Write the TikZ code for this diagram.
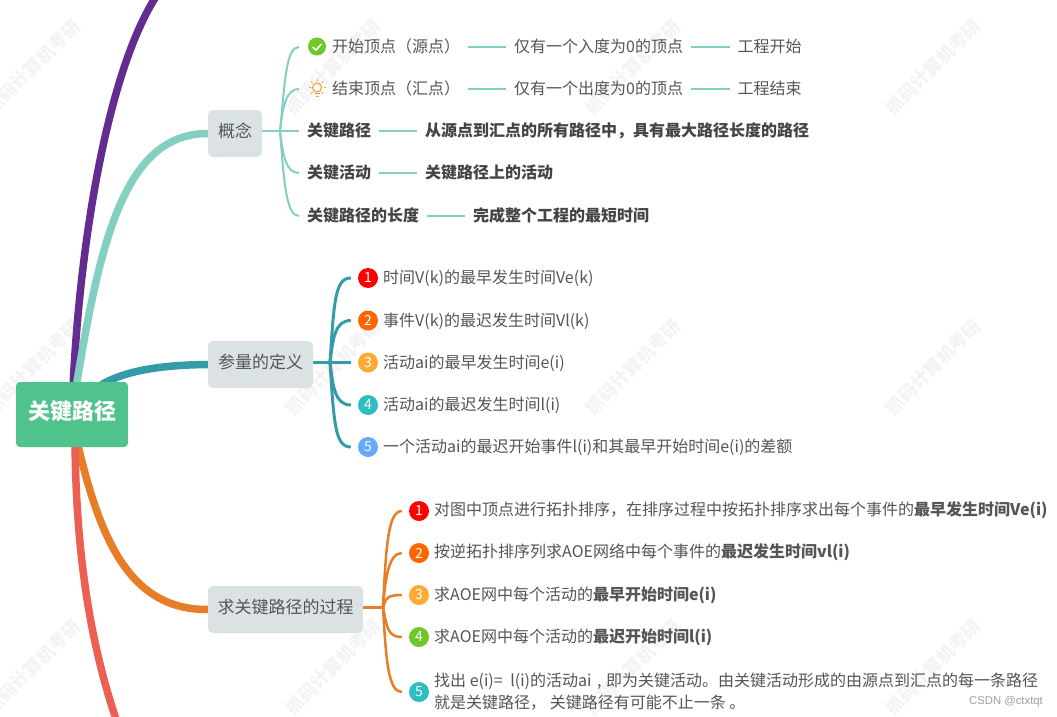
\documentclass[tikz,border=0pt]{standalone}
\usepackage{fontspec}
\setmainfont{Noto Sans CJK SC}
\newfontfamily\csdnfont{Liberation Sans}
\usetikzlibrary{calc,backgrounds}
\definecolor{rootgreen}{HTML}{50C38C}
\definecolor{subgray}{HTML}{DAE2E4}
\definecolor{ink}{HTML}{555555}
\definecolor{inkbold}{HTML}{444444}
\definecolor{purpleline}{HTML}{652C90}
\definecolor{tealline}{HTML}{83CFC1}
\definecolor{deepline}{HTML}{349CA8}
\definecolor{orangeline}{HTML}{E87D27}
\definecolor{redline}{HTML}{EB6052}
\definecolor{numred}{HTML}{FF0000}
\definecolor{numorange}{HTML}{FF6600}
\definecolor{numyellow}{HTML}{FFAA33}
\definecolor{numteal}{HTML}{2DBFBF}
\definecolor{numblue}{HTML}{66AAFF}
\definecolor{numgreen}{HTML}{6FC72A}
\definecolor{bulb}{HTML}{F7A128}
\tikzset{
  rootbox/.style={rectangle,rounded corners=4pt,fill=rootgreen,text=white,minimum width=112pt,minimum height=65pt,text height=19pt,text depth=9pt,font=\fontsize{22}{26}\selectfont\bfseries},
  subbox/.style={rectangle,rounded corners=5pt,fill=subgray,text=ink,minimum height=47pt,text height=14pt,text depth=7pt,inner xsep=0pt,font=\fontsize{17}{20}\selectfont},
  leaf/.style={anchor=west,inner xsep=8pt,inner ysep=0pt,text=ink,font=\fontsize{16}{22}\selectfont,text height=13pt,text depth=2pt},
  leafb/.style={leaf,text=inkbold,font=\fontsize{16}{22}\selectfont\bfseries},
  badge/.style={circle,inner sep=0pt,minimum size=20pt,text=white,font=\fontsize{14}{14}\selectfont},
  mainline/.style={line width=7.5pt},
  wmark/.style={rotate=45,text=gray,text opacity=.09,font=\fontsize{18}{18}\selectfont\bfseries}
}
\begin{document}
\begin{tikzpicture}[x=1pt,y=-1pt]
\useasboundingbox (0,0) rectangle (1057,717);
% watermark
\foreach \x in {33,333,633,933}\foreach \y in {67,367,667}\node[wmark] (wm\x\y) at (\x,\y){抓码计算机考研};
% root and the three boxes
\node[rootbox] (root) at (72,414.5){关键路径};
\node[subbox,minimum width=54pt] (concept) at (235,133.5){概念};
\node[subbox,minimum width=105pt] (define) at (260.5,364.5){参量的定义};
\node[subbox,minimum width=155pt] (process) at (285.5,609.5){求关键路径的过程};
% first group
\node[circle,fill=numgreen,inner sep=0pt,minimum size=18pt] (check) at (317,46.5){};
\draw[white,line width=1.6pt] ($(check)+(-4.5,.5)$)--($(check)+(-1,3.5)$)--($(check)+(4.5,-2.5)$);
\node[circle,draw=bulb,line width=1pt,inner sep=0pt,minimum size=9pt] (lamp) at (317,87.5){};
\foreach \a in {0,45,135,180,225,315}\draw[bulb,line width=.8pt] ($(lamp)+(\a:6.5)$)--($(lamp)+(\a:8.5)$);
\draw[bulb,line width=.8pt] ($(lamp)+(0,-6.5)$)--($(lamp)+(0,-8.5)$);
\draw[bulb,line width=1pt] ($(lamp)+(-2.5,6)$)--($(lamp)+(2.5,6)$) ($(lamp)+(-1.5,8.5)$)--($(lamp)+(1.5,8.5)$);
\node[leaf] (c1a) at (324,47){开始顶点（源点）};
\node[leaf] (c1b) at (506,47){仅有一个入度为0的顶点};
\node[leaf] (c1c) at (729.5,47){工程开始};
\node[leaf] (c2a) at (324,89){结束顶点（汇点）};
\node[leaf] (c2b) at (506,89){仅有一个出度为0的顶点};
\node[leaf] (c2c) at (729.5,89){工程结束};
\node[leafb] (c3a) at (299,131){关键路径};
\node[leafb] (c3b) at (417,131){从源点到汇点的所有路径中，具有最大路径长度的路径};
\node[leafb] (c4a) at (299,173){关键活动};
\node[leafb] (c4b) at (417,173){关键路径上的活动};
\node[leafb] (c5a) at (299,216){关键路径的长度};
\node[leafb] (c5b) at (465,216){完成整个工程的最短时间};
% second group
\foreach \n/\y/\c in {1/278/numred,2/320.5/numorange,3/362.5/numyellow,4/405/numteal,5/447/numblue}\node[badge,fill=\c] (d\n) at (368,\y){\n};
\node[leaf] (dt1) at (375,278){时间V(k)的最早发生时间Ve(k)};
\node[leaf] (dt2) at (375,320.5){事件V(k)的最迟发生时间Vl(k)};
\node[leaf] (dt3) at (375,362.5){活动ai的最早发生时间e(i)};
\node[leaf] (dt4) at (375,405){活动ai的最迟发生时间l(i)};
\node[leaf] (dt5) at (375,447){一个活动ai的最迟开始事件l(i)和其最早开始时间e(i)的差额};
% third group
\foreach \n/\y/\c in {1/511/numred,2/553/numorange,3/595/numyellow,4/637/numgreen,5/692/numteal}\node[badge,fill=\c] (p\n) at (419,\y){\n};
\node[leaf] (pt1) at (426,510){对图中顶点进行拓扑排序，在排序过程中按拓扑排序求出每个事件的\textbf{最早发生时间Ve(i)}};
\node[leaf] (pt2) at (426,552){按逆拓扑排序列求AOE网络中每个事件的\textbf{最迟发生时间vl(i)}};
\node[leaf] (pt3) at (426,594.5){求AOE网中每个活动的\textbf{最早开始时间e(i)}};
\node[leaf] (pt4) at (426,636.5){求AOE网中每个活动的\textbf{最迟开始时间l(i)}};
\node[leaf,align=left,text height=,text depth=] (pt5) at (426,691.5){找出 e(i)=\hspace{4pt} l(i)的活动ai\hspace{2pt} ,\hspace{1pt} 即为关键活动。由关键活动形成的由源点到汇点的每一条路径\\就是关键路径， 关键路径有可能不止一条 。};
\node[inner sep=0pt,text=gray!75,font=\csdnfont\fontsize{11.3}{12}\selectfont] (csdn) at (1006,702){CSDN @ctxtqt};
% connectors go under the nodes
\begin{scope}[on background layer]
\fill[white] (0,0) rectangle (1057,717);
\coordinate (fork1) at (280,131);
\coordinate (fork2) at (330,362.5);
\coordinate (fork3) at (383,607.5);
\coordinate (topedge) at (157,-5);
\coordinate (lowedge) at (118,725);
\draw[mainline,purpleline] ([xshift=1pt,yshift=-6pt]root.north) .. controls (80,240) and (108,70) .. (topedge);
\draw[mainline,tealline] ([xshift=4pt,yshift=-6pt]root.north) .. controls (100,240) and (125,133.5) .. (concept.west);
\draw[mainline,deepline] ([xshift=20pt,yshift=-10pt]root.north) .. controls (112,374) and (150,365) .. (define.west);
\draw[mainline,orangeline] ([xshift=5pt,yshift=6pt]root.south) .. controls (100,540) and (130,610) .. (process.west);
\draw[mainline,redline] ([xshift=3pt,yshift=6pt]root.south) .. controls (76,560) and (92,650) .. (lowedge);
% first group
\foreach \l/\a/\b in {c1a/-50/5,c2a/-25/3}\draw[tealline,line width=2pt] (fork1) .. controls ($(fork1)+(\b,\a)$) and ($(\l.west)+(-38,0)$) .. ([xshift=-25pt]\l.west);
\foreach \l/\a/\b in {c4a/25/3,c5a/50/4}\draw[tealline,line width=2pt] (fork1) .. controls ($(fork1)+(\b,\a)$) and ($(\l.west)+(-13,0)$) .. (\l.west);
\draw[tealline,line width=2pt] (concept.east|-c3a) -- (c3a.west);
\foreach \s/\t in {c1a/c1b,c1b/c1c,c2a/c2b,c2b/c2c,c3a/c3b,c4a/c4b,c5a/c5b}\draw[tealline,line width=2pt] (\s.east) -- (\t.west);
% second group
\foreach \l/\a/\b in {d1/-60/4,d2/-24/3,d4/24/3,d5/60/4}\draw[deepline,line width=3pt] (fork2) .. controls ($(fork2)+(\b,\a)$) and ($(\l.west)+(-23,0)$) .. ([xshift=-7pt]\l.west);
\draw[deepline,line width=3pt] (define.east|-d3) -- ([xshift=-7pt]d3.west);
% third group
\foreach \l/\a/\b in {p1/-60/3,p2/-25/2,p3/-10/3,p4/20/4,p5/50/3}\draw[orangeline,line width=2.5pt] (fork3) .. controls ($(fork3)+(\b,\a)$) and ($(\l.west)+(-21,0)$) .. ([xshift=-7pt]\l.west);
\draw[orangeline,line width=2.5pt] (process.east|-fork3) -- (fork3);
\end{scope}
\end{tikzpicture}
\end{document}
